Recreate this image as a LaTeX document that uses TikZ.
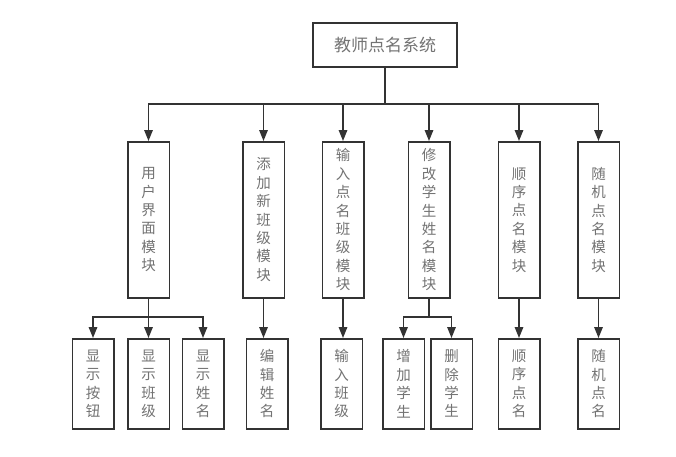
\documentclass[tikz,border=0pt]{standalone}
\usepackage{fontspec}
\newfontfamily\cjk{Noto Sans CJK SC}
\usetikzlibrary{arrows.meta}
\begin{document}
\begin{tikzpicture}[x=1pt,y=-1pt,
 box/.style={draw=black!80,line width=1.5pt,inner sep=0pt,fill=white,font=\cjk\fontsize{14.5}{18.4}\selectfont,text=black!55,align=center},
 mod/.style={box,minimum width=41.5pt,minimum height=156pt,anchor=north},
 leaf/.style={box,minimum width=41.5pt,minimum height=90pt,anchor=north},
 conn/.style={draw=black!80,line width=1.5pt},
 arr/.style={conn,-{Triangle[length=11pt,width=8.5pt]}}]
\useasboundingbox[fill=white] (0,0) rectangle (676,456);
\node[box,minimum width=144pt,minimum height=44pt,font=\cjk\fontsize{17}{20}\selectfont] (root) at (385,45) {教师点名系统};
\node[mod] (m1) at (148.5,141) {用\\户\\界\\面\\模\\块};
\node[mod] (m2) at (263.5,141) {添\\加\\新\\班\\级\\模\\块};
\node[mod] (m3) at (343,141) {输\\入\\点\\名\\班\\级\\模\\块};
\node[mod] (m4) at (429,141) {修\\改\\学\\生\\姓\\名\\模\\块};
\node[mod] (m5) at (519,141) {顺\\序\\点\\名\\模\\块};
\node[mod] (m6) at (598.5,141) {随\\机\\点\\名\\模\\块};
\node[leaf] (l1) at (93,338) {显\\示\\按\\钮};
\node[leaf] (l2) at (148.5,338) {显\\示\\班\\级};
\node[leaf] (l3) at (203,338) {显\\示\\姓\\名};
\node[leaf] (l4) at (267,338) {编\\辑\\姓\\名};
\node[leaf] (l5) at (341.5,338) {输\\入\\班\\级};
\node[leaf] (l6) at (403.5,338) {增\\加\\学\\生};
\node[leaf] (l7) at (451.5,338) {删\\除\\学\\生};
\node[leaf] (l8) at (519,338) {顺\\序\\点\\名};
\node[leaf] (l9) at (598.5,338) {随\\机\\点\\名};
\coordinate (bus) at (0,104);
\coordinate (sub) at (0,317);
\foreach \m in {m1,m2,m3,m4,m5,m6}
  \draw[arr] (root.south) -- (root.south |- bus) -| (\m.north);
\foreach \l in {l1,l2,l3}
  \draw[arr] (m1.south) -- (m1.south |- sub) -| (\l.north);
\foreach \l in {l6,l7}
  \draw[arr] (m4.south) -- (m4.south |- sub) -| (\l.north);
\draw[arr] (m2.south) -- (m2.south |- l4.north);
\draw[arr] (m3.south) -- (m3.south |- l5.north);
\draw[arr] (m5.south) -- (l8.north);
\draw[arr] (m6.south) -- (l9.north);
\end{tikzpicture}
\end{document}
